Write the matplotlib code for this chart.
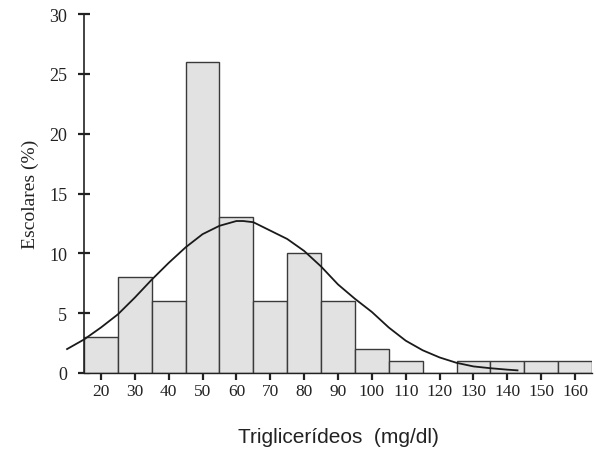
import matplotlib
matplotlib.use("Agg")
import matplotlib.pyplot as plt

# Data
bin_centers = [20, 30, 40, 50, 60, 70, 80, 90, 100, 110, 120, 130, 140, 150, 160]
percent = [3, 8, 6, 26, 13, 6, 10, 6, 2, 1, 0, 1, 1, 1, 1]

curve_x = [10, 15, 20, 25, 30, 35, 40, 45, 50, 55, 60, 62, 65, 70, 75, 80, 85, 90,
           95, 100, 105, 110, 115, 120, 125, 130, 135, 140, 143]
curve_y = [2.0, 2.8, 3.8, 4.9, 6.3, 7.8, 9.2, 10.5, 11.6, 12.3, 12.7, 12.7, 12.6, 11.9,
           11.2, 10.2, 8.9, 7.4, 6.2, 5.1, 3.8, 2.7, 1.9, 1.3, 0.85, 0.55, 0.4, 0.28, 0.22]

x_ticks = [20, 30, 40, 50, 60, 70, 80, 90, 100, 110, 120, 130, 140, 150, 160]
y_ticks = [0, 5, 10, 15, 20, 25, 30]

fig = plt.figure(figsize=(5.96, 4.52), dpi=100)
ax = fig.add_axes([84/596, 1-374/452, (592-84)/596, (374-15)/452])

ax.bar(bin_centers, percent, width=10, color="#e2e2e2", edgecolor="#3a3a3a",
       linewidth=1.0, zorder=2)
ax.plot(curve_x, curve_y, color="#1a1a1a", linewidth=1.3, clip_on=False, zorder=3)

ax.set_xlim(15, 165)
ax.set_ylim(0, 30)
ax.set_xticks(x_ticks)
ax.set_yticks(y_ticks)

serif = ["Liberation Serif", "DejaVu Serif"]
ax.set_xticklabels([str(t) for t in x_ticks], fontfamily=serif, fontsize=12.5)
ax.set_yticklabels([str(t) for t in y_ticks], fontfamily=serif, fontsize=13)

ax.tick_params(axis="y", direction="inout", length=8, width=1.6, pad=8, colors="#222222")
ax.tick_params(axis="x", direction="out", length=5, width=1.6, pad=2, colors="#222222")

for s in ["top", "right"]:
    ax.spines[s].set_visible(False)
ax.spines["left"].set_linewidth(1.2)
ax.spines["bottom"].set_linewidth(1.0)
ax.spines["left"].set_color("#222222")
ax.spines["bottom"].set_color("#222222")

ax.set_ylabel("Escolares (%)", fontfamily=serif, fontsize=14, labelpad=7, color="#222222")
fig.text(338/596, 1-438/452, "Triglicerídeos  (mg/dl)",
         fontfamily=["Liberation Sans", "DejaVu Sans"], fontsize=15,
         ha="center", va="center", color="#222222")

fig.savefig("out.png", dpi=100)
